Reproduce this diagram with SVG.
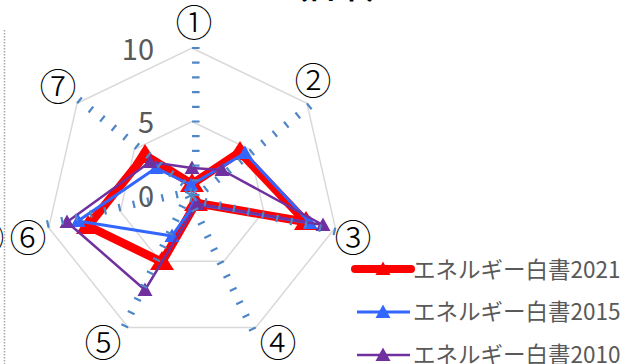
<svg xmlns="http://www.w3.org/2000/svg" width="623" height="364" viewBox="0 0 623 364">
<style>
.grid{fill:none;stroke:#D9D9D9;stroke-width:1.5}
.tick{stroke:#4F86C6;stroke-width:7.5;stroke-dasharray:2.2 12.5;fill:none}
.cat{font-family:"Noto Sans CJK JP","Noto Sans",sans-serif;font-size:37px;font-weight:300;fill:#000;text-anchor:middle}
.val{font-family:"Noto Sans CJK JP","Noto Sans",sans-serif;font-size:29px;fill:#595959;text-anchor:end}
.leg{font-family:"Noto Sans CJK JP","Noto Sans",sans-serif;font-size:22.5px;fill:#595959}
.red{fill:none;stroke:#FF0000;stroke-width:8.5;stroke-linejoin:round;stroke-linecap:round}
.blue{fill:none;stroke:#3366FF;stroke-width:3;stroke-linejoin:round}
.purple{fill:none;stroke:#7030A0;stroke-width:2.5;stroke-linejoin:round}
</style>
<defs>
<path id="tr" d="M0,-11 L12,8 L-12,8 Z"/>
<path id="tm" d="M0,-7.5 L7.5,6 L-7.5,6 Z"/>
</defs>
<rect width="623" height="364" fill="#FFFFFF"/>
<g id="frame">
<line x1="4.5" y1="30" x2="4.5" y2="364" stroke="#A6A6A6" stroke-width="1.5" stroke-dasharray="1.5 1.5"/>
<text x="-14" y="252" class="cat">③</text>
<text x="279" y="-1" font-family="Noto Sans CJK JP,sans-serif" font-size="29" font-weight="bold" fill="#000">（日本）</text>
</g>
<g id="gridlines">
<polygon class="grid" points="192,48 306.9,103.3 335.3,227.7 255.8,327.4 128.2,327.4 48.7,227.7 77.1,103.3"/>
<polygon class="grid" points="192,121.5 249.5,149.2 263.7,211.4 223.9,261.2 160.1,261.2 120.3,211.4 134.5,149.2"/>
</g>
<g id="connectors">
<g id="s2021">
<polygon class="red" points="192,184 240,152 306,222 196,203 162,262 88,226 145,155"/>
<g fill="#FF0000">
<use href="#tr" x="192" y="184"/><use href="#tr" x="240" y="152"/><use href="#tr" x="306" y="222"/><use href="#tr" x="196" y="203"/><use href="#tr" x="162" y="262"/><use href="#tr" x="88" y="226"/><use href="#tr" x="145" y="155"/>
</g>
</g>
<g id="s2015">
<polygon class="blue" points="191,185 245,153 310,223 195,204 172,236 78,221 156,168"/>
<g fill="#3366FF">
<use href="#tm" x="191" y="185"/><use href="#tm" x="245" y="153"/><use href="#tm" x="310" y="223"/><use href="#tm" x="195" y="204"/><use href="#tm" x="172" y="236"/><use href="#tm" x="78" y="221"/><use href="#tm" x="156" y="168"/>
</g>
</g>
<g id="s2010">
<polygon class="purple" points="192,168 222,170 323,225 197,204 145,290 67,222 150,162"/>
<g fill="#7030A0">
<use href="#tm" x="192" y="168"/><use href="#tm" x="222" y="170"/><use href="#tm" x="323" y="225"/><use href="#tm" x="197" y="204"/><use href="#tm" x="145" y="290"/><use href="#tm" x="67" y="222"/><use href="#tm" x="150" y="162"/>
</g>
</g>
</g>
<g id="axes">
<line class="tick" x1="195.8" y1="46.9" x2="195.8" y2="196.1"/>
<line class="tick" x1="195.8" y1="46.9" x2="195.8" y2="196.1" transform="rotate(51.4286 192 195)"/>
<line class="tick" x1="195.8" y1="46.9" x2="195.8" y2="196.1" transform="rotate(102.857 192 195)"/>
<line class="tick" x1="195.8" y1="46.9" x2="195.8" y2="196.1" transform="rotate(154.286 192 195)"/>
<line class="tick" x1="195.8" y1="46.9" x2="195.8" y2="196.1" transform="rotate(205.714 192 195)"/>
<line class="tick" x1="195.8" y1="46.9" x2="195.8" y2="196.1" transform="rotate(257.143 192 195)"/>
<line class="tick" x1="195.8" y1="46.9" x2="195.8" y2="196.1" transform="rotate(308.571 192 195)"/>
</g>
<g id="axis-values">
<text class="val" x="154" y="60">10</text>
<text class="val" x="154" y="133">5</text>
<text class="val" x="154" y="207">0</text>
</g>
<g id="cat1"><text class="cat" x="194" y="37">①</text></g>
<g id="cat2"><text class="cat" x="313" y="95">②</text></g>
<g id="cat3"><text class="cat" x="353" y="252">③</text></g>
<g id="cat4"><text class="cat" x="278" y="357">④</text></g>
<g id="cat5"><text class="cat" x="103" y="357">⑤</text></g>
<g id="cat6"><text class="cat" x="28" y="252">⑥</text></g>
<g id="cat7"><text class="cat" x="58" y="101">⑦</text></g>
<g id="legend">
<g id="leg2021">
<line x1="355" y1="269" x2="411" y2="269" stroke="#FF0000" stroke-width="8" stroke-linecap="round"/>
<use href="#tm" x="383" y="269" fill="#FF0000"/>
<text class="leg" x="413" y="278">エネルギー白書2021</text>
</g>
<g id="leg2015">
<line x1="357" y1="312" x2="410" y2="312" stroke="#3366FF" stroke-width="3"/>
<use href="#tm" x="383" y="312" fill="#3366FF"/>
<text class="leg" x="413" y="320">エネルギー白書2015</text>
</g>
<g id="leg2010">
<line x1="357" y1="355" x2="410" y2="355" stroke="#7030A0" stroke-width="2.5"/>
<use href="#tm" x="383" y="355" fill="#7030A0"/>
<text class="leg" x="413" y="363">エネルギー白書2010</text>
</g>
</g>
</svg>
